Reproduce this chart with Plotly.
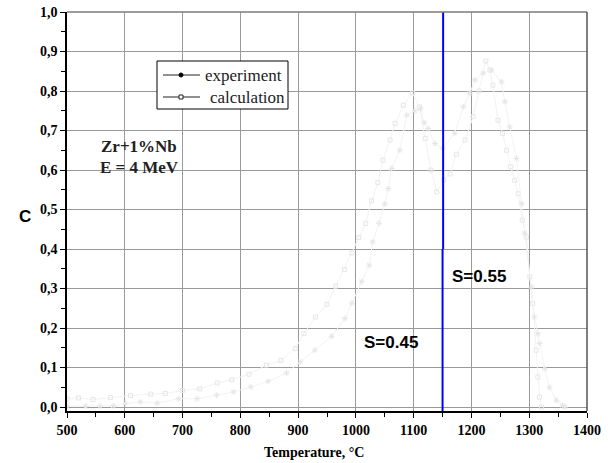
import plotly.graph_objects as go

# ---- data ----
calc_T = [500, 520, 545, 575, 610, 645, 670, 700, 730, 760, 785, 815, 845, 870, 895, 910,
          930, 950, 965, 980, 993, 1005, 1017, 1027, 1038, 1047, 1059, 1068, 1082, 1098,
          1110, 1120, 1130, 1140, 1152, 1163, 1174, 1189, 1203, 1213, 1225, 1232, 1237,
          1246, 1254, 1261, 1268, 1275, 1281, 1288, 1295, 1301, 1306, 1312, 1315, 1318, 1321]
calc_C = [0.021, 0.023, 0.019, 0.024, 0.029, 0.033, 0.034, 0.042, 0.046, 0.061, 0.069, 0.083,
          0.106, 0.118, 0.148, 0.186, 0.228, 0.26, 0.306, 0.348, 0.39, 0.429, 0.465, 0.522,
          0.568, 0.625, 0.676, 0.718, 0.764, 0.795, 0.76, 0.68, 0.60, 0.545, 0.575, 0.59,
          0.64, 0.676, 0.735, 0.80, 0.876, 0.853, 0.815, 0.726, 0.693, 0.65, 0.608, 0.574,
          0.54, 0.473, 0.43, 0.33, 0.262, 0.144, 0.076, 0.025, 0.0]

exp_T = [500, 532, 557, 580, 601, 627, 656, 693, 725, 759, 788, 818, 848, 880, 904, 929,
         958, 981, 993, 1010, 1023, 1029, 1040, 1050, 1056, 1062, 1076, 1088, 1102, 1112,
         1118, 1125, 1137, 1150, 1171, 1186, 1197, 1206, 1220, 1235, 1252, 1258, 1266, 1278,
         1287, 1292, 1304, 1309, 1315, 1318, 1327, 1335, 1347, 1358, 1362]
exp_C = [0.002, 0.002, 0.002, 0.003, 0.009, 0.013, 0.010, 0.021, 0.021, 0.030, 0.038, 0.051,
         0.065, 0.086, 0.114, 0.144, 0.179, 0.224, 0.263, 0.318, 0.359, 0.418, 0.465, 0.514,
         0.553, 0.604, 0.65, 0.739, 0.75, 0.755, 0.72, 0.705, 0.667, 0.655, 0.693, 0.76,
         0.794, 0.828, 0.845, 0.853, 0.823, 0.773, 0.709, 0.629, 0.515, 0.44, 0.304, 0.228,
         0.186, 0.161, 0.097, 0.05, 0.017, 0.004, 0.0]

boundary_T = [1150, 1150]
boundary_lo = [-0.01, 0.4]
boundary_hi = [0.4, 1.0]
boundary_T_hi = [1151, 1151]

x_ticks = [500, 600, 700, 800, 900, 1000, 1100, 1200, 1300, 1400]
y_ticks = [0.0, 0.1, 0.2, 0.3, 0.4, 0.5, 0.6, 0.7, 0.8, 0.9, 1.0]
y_labels = ["0,0", "0,1", "0,2", "0,3", "0,4", "0,5", "0,6", "0,7", "0,8", "0,9", "1,0"]
legend_names = ["experiment", "calculation"]

faint_line = "#f3f3f3"
faint_mark = "#e6e6e6"
serif = "Liberation Serif, Times New Roman, serif"
sans = "Liberation Sans, Arial, sans-serif"

fig = go.Figure()

fig.add_trace(go.Scatter(x=calc_T, y=calc_C, mode="lines+markers", showlegend=False,
                         line=dict(color=faint_line, width=1),
                         marker=dict(symbol="square-open", size=4, color=faint_mark,
                                     line=dict(width=1, color=faint_mark))))
fig.add_trace(go.Scatter(x=exp_T, y=exp_C, mode="lines+markers", showlegend=False,
                         line=dict(color=faint_line, width=1),
                         marker=dict(symbol="asterisk-open", size=5, color=faint_mark,
                                     line=dict(width=1, color=faint_mark))))

# boundary line
fig.add_trace(go.Scatter(x=boundary_T, y=boundary_lo, mode="lines", showlegend=False,
                         line=dict(color="#0000ff", width=2)))
fig.add_trace(go.Scatter(x=boundary_T_hi, y=boundary_hi, mode="lines", showlegend=False,
                         line=dict(color="#0000ff", width=2)))

W, H = 608, 463
L, R, T, B = 67, 21, 12, 52
PW, PH = W - L - R, H - T - B


def px(xp):
    return (xp - L) / PW


def py(yp):
    return ((H - B) - yp) / PH


fig.update_layout(
    width=W, height=H,
    margin=dict(l=L, r=R, t=T, b=B, pad=0, autoexpand=False),
    plot_bgcolor="white", paper_bgcolor="white",
    showlegend=False,
    xaxis=dict(range=[500, 1400], tickvals=x_ticks, showgrid=True, automargin=False,
               gridcolor="#9a9a9a", gridwidth=1.2, zeroline=False,
               showline=True, linecolor="black", linewidth=1.5,
               ticks="outside", ticklen=5, tickcolor="black",
               tickfont=dict(family=serif, size=14, color="black", weight="bold"),
               minor=dict(dtick=50, ticks="outside", ticklen=4, tickcolor="black", showgrid=False)),
    yaxis=dict(range=[-0.01, 1.0], tickvals=y_ticks, ticktext=y_labels, showgrid=True,
               automargin=False,
               gridcolor="#9a9a9a", gridwidth=1.2, zeroline=False,
               showline=True, linecolor="black", linewidth=1.5,
               ticks="outside", ticklen=5, tickcolor="black",
               tickfont=dict(family=serif, size=14, color="black", weight="bold"),
               minor=dict(dtick=0.05, tick0=0, ticks="outside", ticklen=4, tickcolor="black", showgrid=False)),
)

# top and right frame
fig.add_shape(type="line", xref="paper", yref="paper", x0=0, x1=1, y0=1, y1=1,
              line=dict(color="#7a7a7a", width=1.5))
fig.add_shape(type="line", xref="paper", yref="paper", x0=1, x1=1, y0=0, y1=1,
              line=dict(color="#555555", width=1.5))

# manual legend box
fig.add_shape(type="rect", xref="paper", yref="paper", x0=px(157), x1=px(288), y0=py(109), y1=py(61),
              line=dict(color="black", width=1), fillcolor="white")
for i, (name, yy, txt_x) in enumerate(zip(legend_names, [75, 97], [203, 208])):
    fig.add_shape(type="line", xref="paper", yref="paper", x0=px(163), x1=px(200),
                  y0=py(yy), y1=py(yy), line=dict(color="#222222", width=1))
    if i == 0:
        fig.add_shape(type="circle", xref="paper", yref="paper", x0=px(179), x1=px(183),
                      y0=py(yy + 2), y1=py(yy - 2), line=dict(color="black", width=1),
                      fillcolor="black")
    else:
        fig.add_shape(type="rect", xref="paper", yref="paper", x0=px(179), x1=px(183),
                      y0=py(yy + 2), y1=py(yy - 2), line=dict(color="#222222", width=1),
                      fillcolor="white")
    fig.add_annotation(x=px(txt_x), y=py(yy), xref="paper", yref="paper", xanchor="left",
                       yanchor="middle", text=name, showarrow=False,
                       font=dict(family=serif, size=17, color="#222222"))

# axis titles
fig.add_annotation(x=px(314), y=py(453), xref="paper", yref="paper", xanchor="center", yanchor="middle",
                   text="Temperature, °C", showarrow=False,
                   font=dict(family=serif, size=14, color="black", weight="bold"))
fig.add_annotation(x=px(25), y=py(216), xref="paper", yref="paper", xanchor="center", yanchor="middle",
                   text="C", showarrow=False,
                   font=dict(family=sans, size=17, color="black", weight="bold"))

fig.add_annotation(x=px(99), y=py(146), xref="paper", yref="paper", xanchor="left", yanchor="middle",
                   text="Zr+1%Nb", showarrow=False,
                   font=dict(family=serif, size=17, color="#222222", weight="bold"))
fig.add_annotation(x=px(98), y=py(167), xref="paper", yref="paper", xanchor="left", yanchor="middle",
                   text="E = 4 MeV", showarrow=False,
                   font=dict(family=serif, size=17, color="#222222", weight="bold"))
fig.add_annotation(x=px(450), y=py(276), xref="paper", yref="paper", xanchor="left", yanchor="middle",
                   text="S=0.55", showarrow=False,
                   font=dict(family=sans, size=17, color="black", weight="bold"))
fig.add_annotation(x=px(362), y=py(342), xref="paper", yref="paper", xanchor="left", yanchor="middle",
                   text="S=0.45", showarrow=False,
                   font=dict(family=sans, size=17, color="black", weight="bold"))

fig.write_html("out.html", config={"displayModeBar": False},
               post_script="document.body.style.margin='0';")
